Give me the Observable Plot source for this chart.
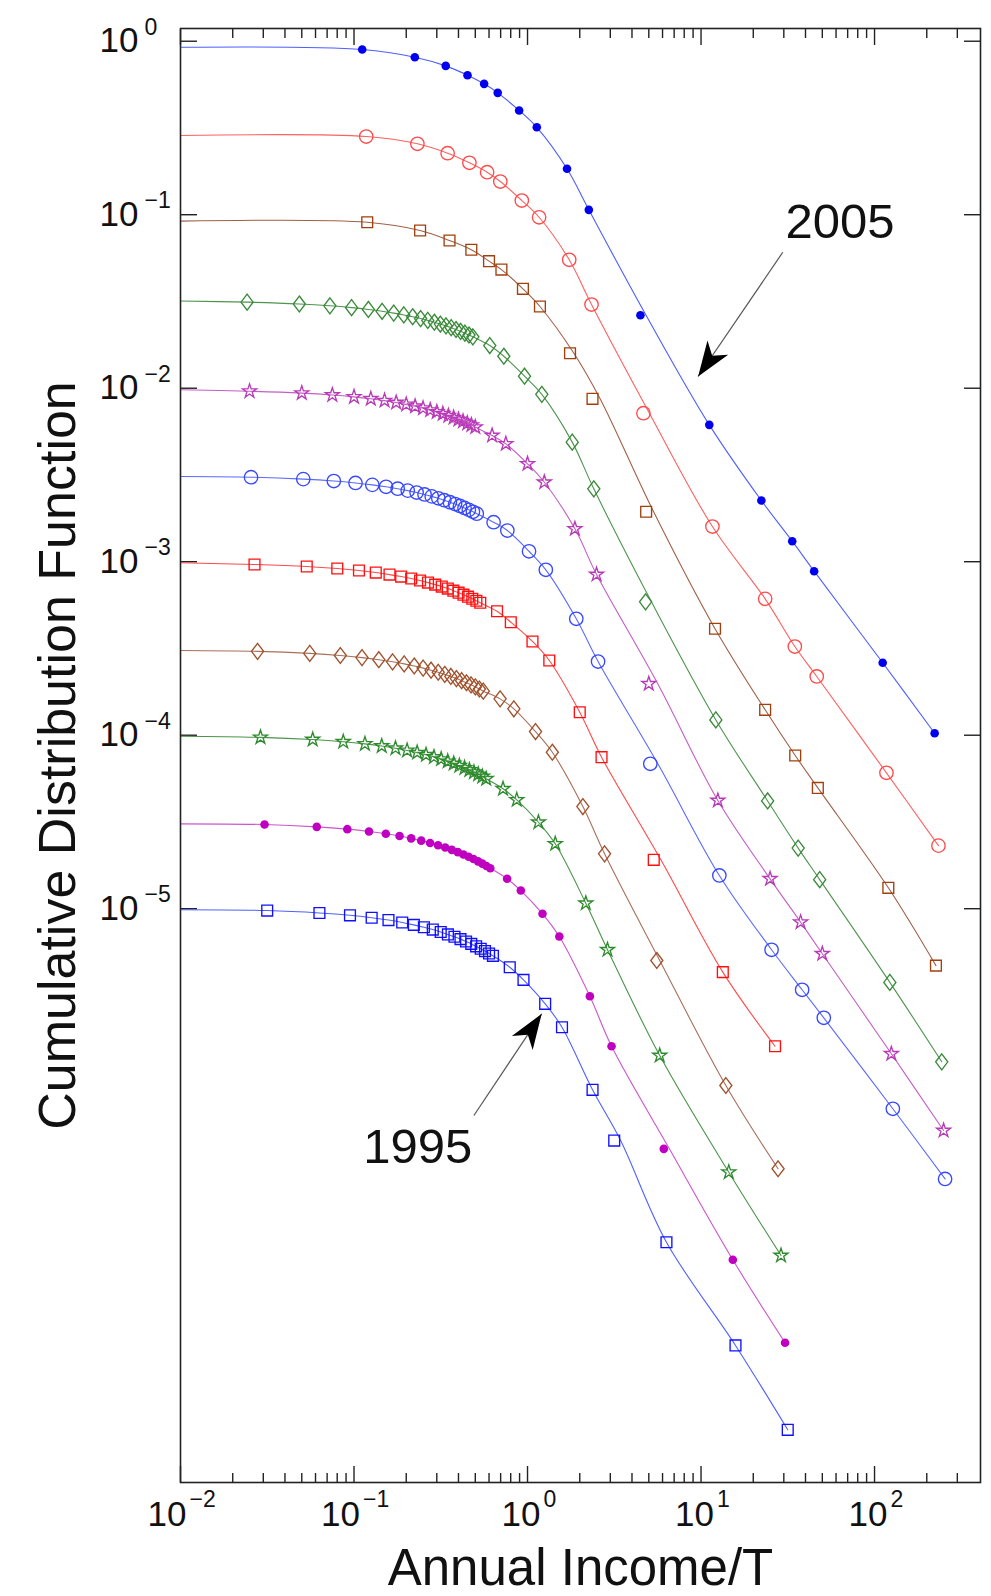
<!DOCTYPE html>
<html>
<head>
<meta charset="utf-8">
<script src="https://cdn.jsdelivr.net/npm/d3@7"></script>
<script src="https://cdn.jsdelivr.net/npm/@observablehq/plot@0.6"></script>
<style>
  html, body { margin: 0; padding: 0; background: #fff; }
  #chart svg { display: block; }
</style>
</head>
<body>
<div id="chart"></div>
<script>
// ---------------- data ----------------
const years = [2005, 2004, 2003, 2002, 2001, 2000, 1999, 1998, 1997, 1996, 1995];

const x2005 = [0.1115, 0.2241, 0.3377, 0.4510, 0.5622, 0.6733, 0.8947, 1.131, 1.689, 2.256, 4.474, 11.16, 22.27, 33.54, 44.86, 111.4, 222.0];
const y2005 = [0.896, 0.809, 0.721, 0.637, 0.568, 0.504, 0.399, 0.319, 0.184, 0.1067, 0.02635, 0.00615, 0.002253, 0.001313, 0.000882, 0.0002615, 0.0001027];

const x2004 = [0.1176, 0.2319, 0.3464, 0.4625, 0.5850, 0.6968, 0.927, 1.166, 1.739, 2.338, 4.656, 11.63, 23.42, 34.72, 46.44, 117.1, 233.5];
const y2004 = [0.2823, 0.2563, 0.2262, 0.1991, 0.1758, 0.1554, 0.1207, 0.0967, 0.0550, 0.03037, 0.00718, 0.001595, 0.000611, 0.0003245, 0.000218, 0.0000607, 0.0000231];

const x2003 = [0.1192, 0.2404, 0.3552, 0.4744, 0.600, 0.7072, 0.9408, 1.179, 1.758, 2.369, 4.827, 12.04, 23.42, 34.90, 47.12, 120.1, 225.9];
const y2003 = [0.0905, 0.0811, 0.0710, 0.0628, 0.0540, 0.0483, 0.0374, 0.02958, 0.01591, 0.00869, 0.00194, 0.000411, 0.0001401, 0.0000764, 0.0000497, 0.0000132, 0.0000047];

const x2002 = [0.0242, 0.0484, 0.0726, 0.0968, 0.121, 0.1452, 0.1694, 0.1936, 0.2178, 0.242, 0.2662, 0.2904, 0.3146, 0.3388, 0.363, 0.3872, 0.4114, 0.4356, 0.4598, 0.484,
               0.606, 0.730, 0.961, 1.209, 1.81, 2.41, 4.79, 12.17, 24.2, 36.3, 48.3, 122.5, 243.9];
const y2002 = [0.03133, 0.03058, 0.02985, 0.02914, 0.02844, 0.02776, 0.02710, 0.02645, 0.02582, 0.02520, 0.02460, 0.02401, 0.02344, 0.02288, 0.02233, 0.02180, 0.02128, 0.02077, 0.02027, 0.01978,
               0.01762, 0.01529, 0.01173, 0.00922, 0.00489, 0.00263, 0.000587, 0.0001225, 0.0000418, 0.00002235, 0.00001471, 0.00000376, 0.000001311];

const x2001 = [0.025, 0.05, 0.075, 0.1, 0.125, 0.15, 0.175, 0.2, 0.225, 0.25, 0.275, 0.3, 0.325, 0.35, 0.375, 0.4, 0.425, 0.45, 0.475, 0.5,
               0.625, 0.75, 1.0, 1.25, 1.875, 2.5, 5.0, 12.5, 25, 37.5, 50, 125, 250];
const y2001 = [0.00961, 0.00937, 0.00914, 0.00891, 0.00869, 0.00848, 0.00827, 0.00806, 0.00787, 0.00767, 0.00748, 0.00730, 0.00712, 0.00694, 0.00677, 0.00660, 0.00644, 0.00628, 0.00613, 0.00597,
               0.00534, 0.00478, 0.003666, 0.002872, 0.001547, 0.000844, 0.0001978, 0.00004205, 0.00001487, 0.00000836, 0.0000055, 0.000001458, 5.27e-7];

const x2000 = [0.0255, 0.051, 0.0765, 0.102, 0.1275, 0.153, 0.1785, 0.204, 0.2295, 0.255, 0.2805, 0.306, 0.3315, 0.357, 0.3825, 0.408, 0.4335, 0.459, 0.4845, 0.51,
               0.6375, 0.765, 1.02, 1.275, 1.91, 2.55, 5.1, 12.75, 25.5, 38.25, 51, 127.5, 255];
const y2000 = [0.003071, 0.002993, 0.002918, 0.002844, 0.002773, 0.002703, 0.002635, 0.002569, 0.002504, 0.002441, 0.002380, 0.002320, 0.002261, 0.002204, 0.002149, 0.002095, 0.002042, 0.001990, 0.001940, 0.001892,
               0.001689, 0.001513, 0.001149, 0.000898, 0.000469, 0.000266, 0.0000684, 0.00001554, 0.0000058, 0.00000341, 0.00000235, 7.03e-7, 2.77e-7];

const x1999 = [0.0267, 0.0534, 0.0801, 0.1068, 0.1335, 0.1602, 0.1869, 0.2136, 0.2403, 0.267, 0.2937, 0.3204, 0.3471, 0.3738, 0.4005, 0.4272, 0.4539, 0.4806, 0.5073, 0.534,
               0.6675, 0.801, 1.068, 1.335, 2.0, 2.67, 5.34, 13.35, 26.7];
const y1999 = [0.000964, 0.000939, 0.000914, 0.000890, 0.000866, 0.000843, 0.000821, 0.000800, 0.000779, 0.000758, 0.000738, 0.000719, 0.000700, 0.000681, 0.000663, 0.000646, 0.000629, 0.000612, 0.000596, 0.000580,
               0.000518, 0.000448, 0.000347, 0.0002695, 0.0001357, 0.0000747, 0.00001913, 0.00000431, 0.000001612];

const x1998 = [0.0278, 0.0556, 0.0834, 0.1112, 0.139, 0.1668, 0.1946, 0.2224, 0.2502, 0.278, 0.3058, 0.3336, 0.3614, 0.3892, 0.417, 0.4448, 0.4726, 0.5004, 0.5282, 0.556,
               0.695, 0.834, 1.112, 1.39, 2.085, 2.78, 5.56, 13.9, 27.8];
const y1998 = [0.0003044, 0.0002961, 0.000288, 0.0002801, 0.0002724, 0.0002649, 0.0002577, 0.0002506, 0.0002437, 0.000237, 0.0002306, 0.0002242, 0.0002181, 0.0002121, 0.0002063, 0.0002006, 0.0001951, 0.0001898, 0.0001846, 0.0001795,
               0.000162, 0.000142, 0.000105, 0.0000798, 0.0000388, 0.00002072, 0.00000503, 9.57e-7, 3.17e-7];

const x1997 = [0.0289, 0.0578, 0.0867, 0.1156, 0.1445, 0.1734, 0.2023, 0.2312, 0.2601, 0.289, 0.3179, 0.3468, 0.3757, 0.4046, 0.4335, 0.4624, 0.4913, 0.5202, 0.5491, 0.578,
               0.7225, 0.867, 1.156, 1.445, 2.1675, 2.89, 5.78, 14.45, 28.9];
const y1997 = [9.72e-5, 9.44e-5, 9.17e-5, 8.91e-5, 8.66e-5, 8.41e-5, 8.17e-5, 7.94e-5, 7.71e-5, 7.49e-5, 7.28e-5, 7.07e-5, 6.87e-5, 6.67e-5, 6.48e-5, 6.30e-5, 6.12e-5, 5.95e-5, 5.78e-5, 5.61e-5,
               4.91e-5, 4.24e-5, 3.15e-5, 2.366e-5, 1.075e-5, 5.80e-6, 1.425e-6, 3.03e-7, 1.003e-7];

const x1996 = [0.0305, 0.061, 0.0915, 0.122, 0.1525, 0.183, 0.2135, 0.244, 0.2745, 0.305, 0.3355, 0.366, 0.3965, 0.427, 0.4575, 0.488, 0.5185, 0.549, 0.5795, 0.61,
               0.7625, 0.915, 1.22, 1.525, 2.2875, 3.05, 6.1, 15.25, 30.5];
const y1996 = [3.056e-5, 2.964e-5, 2.874e-5, 2.788e-5, 2.704e-5, 2.623e-5, 2.544e-5, 2.468e-5, 2.394e-5, 2.322e-5, 2.252e-5, 2.184e-5, 2.119e-5, 2.055e-5, 1.993e-5, 1.933e-5, 1.875e-5, 1.819e-5, 1.764e-5, 1.711e-5,
               1.487e-5, 1.273e-5, 9.35e-6, 6.92e-6, 3.13e-6, 1.612e-6, 4.13e-7, 9.47e-8, 3.15e-8];

const x1995 = [0.0316, 0.0632, 0.0948, 0.1264, 0.158, 0.1896, 0.2212, 0.2528, 0.2844, 0.316, 0.3476, 0.3792, 0.4108, 0.4424, 0.474, 0.5056, 0.5372, 0.5688, 0.6004, 0.632,
               0.79, 0.948, 1.264, 1.58, 2.37, 3.16, 6.32, 15.8, 31.6];
const y1995 = [9.76e-6, 9.45e-6, 9.16e-6, 8.87e-6, 8.60e-6, 8.33e-6, 8.07e-6, 7.82e-6, 7.58e-6, 7.34e-6, 7.11e-6, 6.89e-6, 6.68e-6, 6.47e-6, 6.27e-6, 6.07e-6, 5.88e-6, 5.70e-6, 5.52e-6, 5.35e-6,
               4.60e-6, 3.89e-6, 2.83e-6, 2.075e-6, 9.04e-7, 4.61e-7, 1.196e-7, 3.04e-8, 9.92e-9];

// fitted curves: value at the left edge (x = 0.01) and points lying off the curve: [point index, curve x at that point's y]
const fitStartX = 0.01;
const fitStartY = [0.923, 0.286, 0.0918, 0.0318, 0.00979, 0.0031, 0.000986, 0.000308, 9.87e-5, 3.085e-5, 9.86e-6];
const fitOffPoints = [
  [[10, 4.82]],
  [[10, 5.04]],
  [[8, 1.85], [9, 2.62], [10, 5.33]],
  [[26, 5.18]],
  [[26, 5.63]],
  [[26, 5.64]],
  [[26, 5.87]],
  [[26, 5.78]],
  [],
  [[26, 6.57]],
  [[25, 3.44]]
];

// annotations
const annotText = ["2005", "1995"];
const annotTextX = [63.2, 0.233];
const annotTextY = [0.0904, 4.22e-7];
const arrowFromX = [29.6, 0.491];
const arrowFromY = [0.0608, 6.43e-7];
const arrowToX = [9.62, 1.207];
const arrowToY = [0.01168, 2.478e-6];

// ticks
const xMajorTicks = [0.01, 0.1, 1, 10, 100];
const xMajorExp = ["\u22122", "\u22121", "0", "1", "2"];
const xMinorTicks = [0.02, 0.03, 0.04, 0.05, 0.06, 0.07, 0.08, 0.09,
                     0.2, 0.3, 0.4, 0.5, 0.6, 0.7, 0.8, 0.9,
                     2, 3, 4, 5, 6, 7, 8, 9,
                     20, 30, 40, 50, 60, 70, 80, 90,
                     200, 300];
const yMajorTicks = [1, 0.1, 0.01, 0.001, 1e-4, 1e-5];
const yMajorExp = ["0", "\u22121", "\u22122", "\u22123", "\u22124", "\u22125"];

// ---------------- styles ----------------
const markerKind = ["dot", "circle", "square", "diamond", "star", "circle", "square", "diamond", "star", "dot", "square"];
const markerColor = ["#0000f0", "#ff4a4a", "#a0400f", "#3a8a3a", "#b83ab8", "#3848ff", "#ff1010", "#a0522d", "#2e8b2e", "#c000c0", "#1010ff"];
const lineColor   = ["#4d5eff", "#ff6060", "#a06048", "#4e944e", "#c45ec4", "#5a6aff", "#ff4a4a", "#a8705a", "#4a944a", "#cc55cc", "#5060ff"];

const diamondSymbol = {
  draw(ctx, size) {
    const r = Math.sqrt(size / Math.PI), h = r * 1.45, w = r * 1.1;
    ctx.moveTo(0, -h); ctx.lineTo(w, 0); ctx.lineTo(0, h); ctx.lineTo(-w, 0); ctx.closePath();
  }
};
const arrowHeadSymbol = {
  draw(ctx) {
    ctx.moveTo(0, 0); ctx.lineTo(-12.5, 35); ctx.lineTo(0, 25); ctx.lineTo(12.5, 35); ctx.closePath();
  }
};

// ---------------- tables ----------------
const seriesX = [x2005, x2004, x2003, x2002, x2001, x2000, x1999, x1998, x1997, x1996, x1995];
const seriesY = [y2005, y2004, y2003, y2002, y2001, y2000, y1999, y1998, y1997, y1996, y1995];

const pointTables = seriesX.map((xs, i) => xs.map((x, j) => ({year: years[i], x, y: seriesY[i][j]})));
const fitTables = seriesX.map((xs, i) => {
  const off = new Map(fitOffPoints[i]);
  return [{x: fitStartX, y: fitStartY[i]}].concat(xs.map((x, j) => ({x: off.has(j) ? off.get(j) : x, y: seriesY[i][j]})));
});
const annots = annotText.map((t, i) => ({t, x: annotTextX[i], y: annotTextY[i], x1: arrowFromX[i], y1: arrowFromY[i], x2: arrowToX[i], y2: arrowToY[i]}));
const xLabels = xMajorTicks.map((v, i) => ({v, e: xMajorExp[i]}));
const yLabels = yMajorTicks.map((v, i) => ({v, e: yMajorExp[i]}));

const FONT = "'Liberation Sans', Arial, Helvetica, sans-serif";

function markerMark(i) {
  const k = markerKind[i];
  const data = pointTables[i];
  if (k === "dot") return Plot.dot(data, {x: "x", y: "y", r: 4.3, fill: markerColor[i], stroke: "none"});
  const symbol = k === "diamond" ? diamondSymbol : k;
  const r = k === "circle" ? 6.7 : k === "square" ? 6.1 : k === "diamond" ? 5.5 : 4.4;
  return Plot.dot(data, {x: "x", y: "y", symbol, r, fill: "none", stroke: markerColor[i], strokeWidth: 1.35});
}

function baseMarks() {
  const axisStyle = {stroke: "#222", strokeWidth: 1.4, tickFormat: () => "", label: null};
  return [
    Plot.axisX({anchor: "bottom", ticks: xMajorTicks, tickSize: -16, ...axisStyle}),
    Plot.axisX({anchor: "bottom", ticks: xMinorTicks, tickSize: -9, ...axisStyle}),
    Plot.axisX({anchor: "top", ticks: xMajorTicks, tickSize: -16, ...axisStyle}),
    Plot.axisX({anchor: "top", ticks: xMinorTicks, tickSize: -9, ...axisStyle}),
    Plot.axisY({anchor: "left", ticks: yMajorTicks, tickSize: -17, ...axisStyle}),
    Plot.axisY({anchor: "right", ticks: yMajorTicks, tickSize: -17, ...axisStyle}),
    // fitted curves
    ...fitTables.map((t, i) => Plot.line(t, {x: "x", y: "y", stroke: lineColor[i], strokeWidth: 1.1, curve: "catmull-rom"})),
    // data markers
    ...years.map((_, i) => markerMark(i)),
    // tick labels (10 with superscript exponent)
    Plot.text(xLabels.filter(d => d.e.length > 1), {x: "v", frameAnchor: "bottom", text: () => "10", textAnchor: "end", dx: 6, dy: 43, fontSize: 35}),
    Plot.text(xLabels.filter(d => d.e.length > 1), {x: "v", frameAnchor: "bottom", text: "e", textAnchor: "start", dx: 9, dy: 24, fontSize: 23}),
    Plot.text(xLabels.filter(d => d.e.length === 1), {x: "v", frameAnchor: "bottom", text: () => "10", textAnchor: "end", dx: 13, dy: 43, fontSize: 35}),
    Plot.text(xLabels.filter(d => d.e.length === 1), {x: "v", frameAnchor: "bottom", text: "e", textAnchor: "start", dx: 16, dy: 24, fontSize: 23}),
    Plot.text(yLabels, {y: "v", frameAnchor: "left", text: () => "10", textAnchor: "end", dx: -42, fontSize: 35}),
    Plot.text(yLabels, {y: "v", frameAnchor: "left", text: "e", textAnchor: "start", dx: -36, dy: -14, fontSize: 23}),
    // axis titles
    Plot.text(["Cumulative Distribution Function"], {frameAnchor: "left", text: d => d, textAnchor: "middle", rotate: -90, dx: -122, fontSize: 52}),
    Plot.text(["Annual Income/T"], {frameAnchor: "bottom", text: d => d, textAnchor: "middle", lineAnchor: "bottom", dy: 102, fontSize: 51}),
    // annotations
    Plot.link(annots, {x1: "x1", y1: "y1", x2: "x2", y2: "y2", stroke: "#555", strokeWidth: 1.2}),
    Plot.text(annots, {x: "x", y: "y", text: "t", fontSize: 49}),
    Plot.frame({stroke: "#222", strokeWidth: 1.6})
  ];
}

const plotOptions = {
  width: 991,
  height: 1596,
  marginLeft: 180,
  marginRight: 11,
  marginTop: 28,
  marginBottom: 114,
  style: {fontFamily: FONT, background: "#fff", color: "#111", overflow: "visible"},
  x: {type: "log", domain: [0.01, 408]},
  y: {type: "log", domain: [4.93e-9, 1.184]}
};

// first pass: obtain the scales to orient the arrowheads along the arrows
const firstPass = Plot.plot({...plotOptions, marks: baseMarks()});
const sx = firstPass.scale("x"), sy = firstPass.scale("y");
const fx = sx.apply ? (v => sx.apply(v)) : d3.scaleLog().domain(sx.domain).range(sx.range);
const fy = sy.apply ? (v => sy.apply(v)) : d3.scaleLog().domain(sy.domain).range(sy.range);
const headAngle = annots.map(a => {
  const dx = fx(a.x2) - fx(a.x1), dy = fy(a.y2) - fy(a.y1);
  return Math.atan2(dx, -dy) * 180 / Math.PI;
});

const chart = Plot.plot({
  ...plotOptions,
  marks: [
    ...baseMarks(),
    Plot.dot(annots, {x: "x2", y: "y2", symbol: arrowHeadSymbol, r: 5, fill: "#000", stroke: "none", rotate: (d, i) => headAngle[i]})
  ]
});
document.getElementById("chart").appendChild(chart);
</script>
</body>
</html>
